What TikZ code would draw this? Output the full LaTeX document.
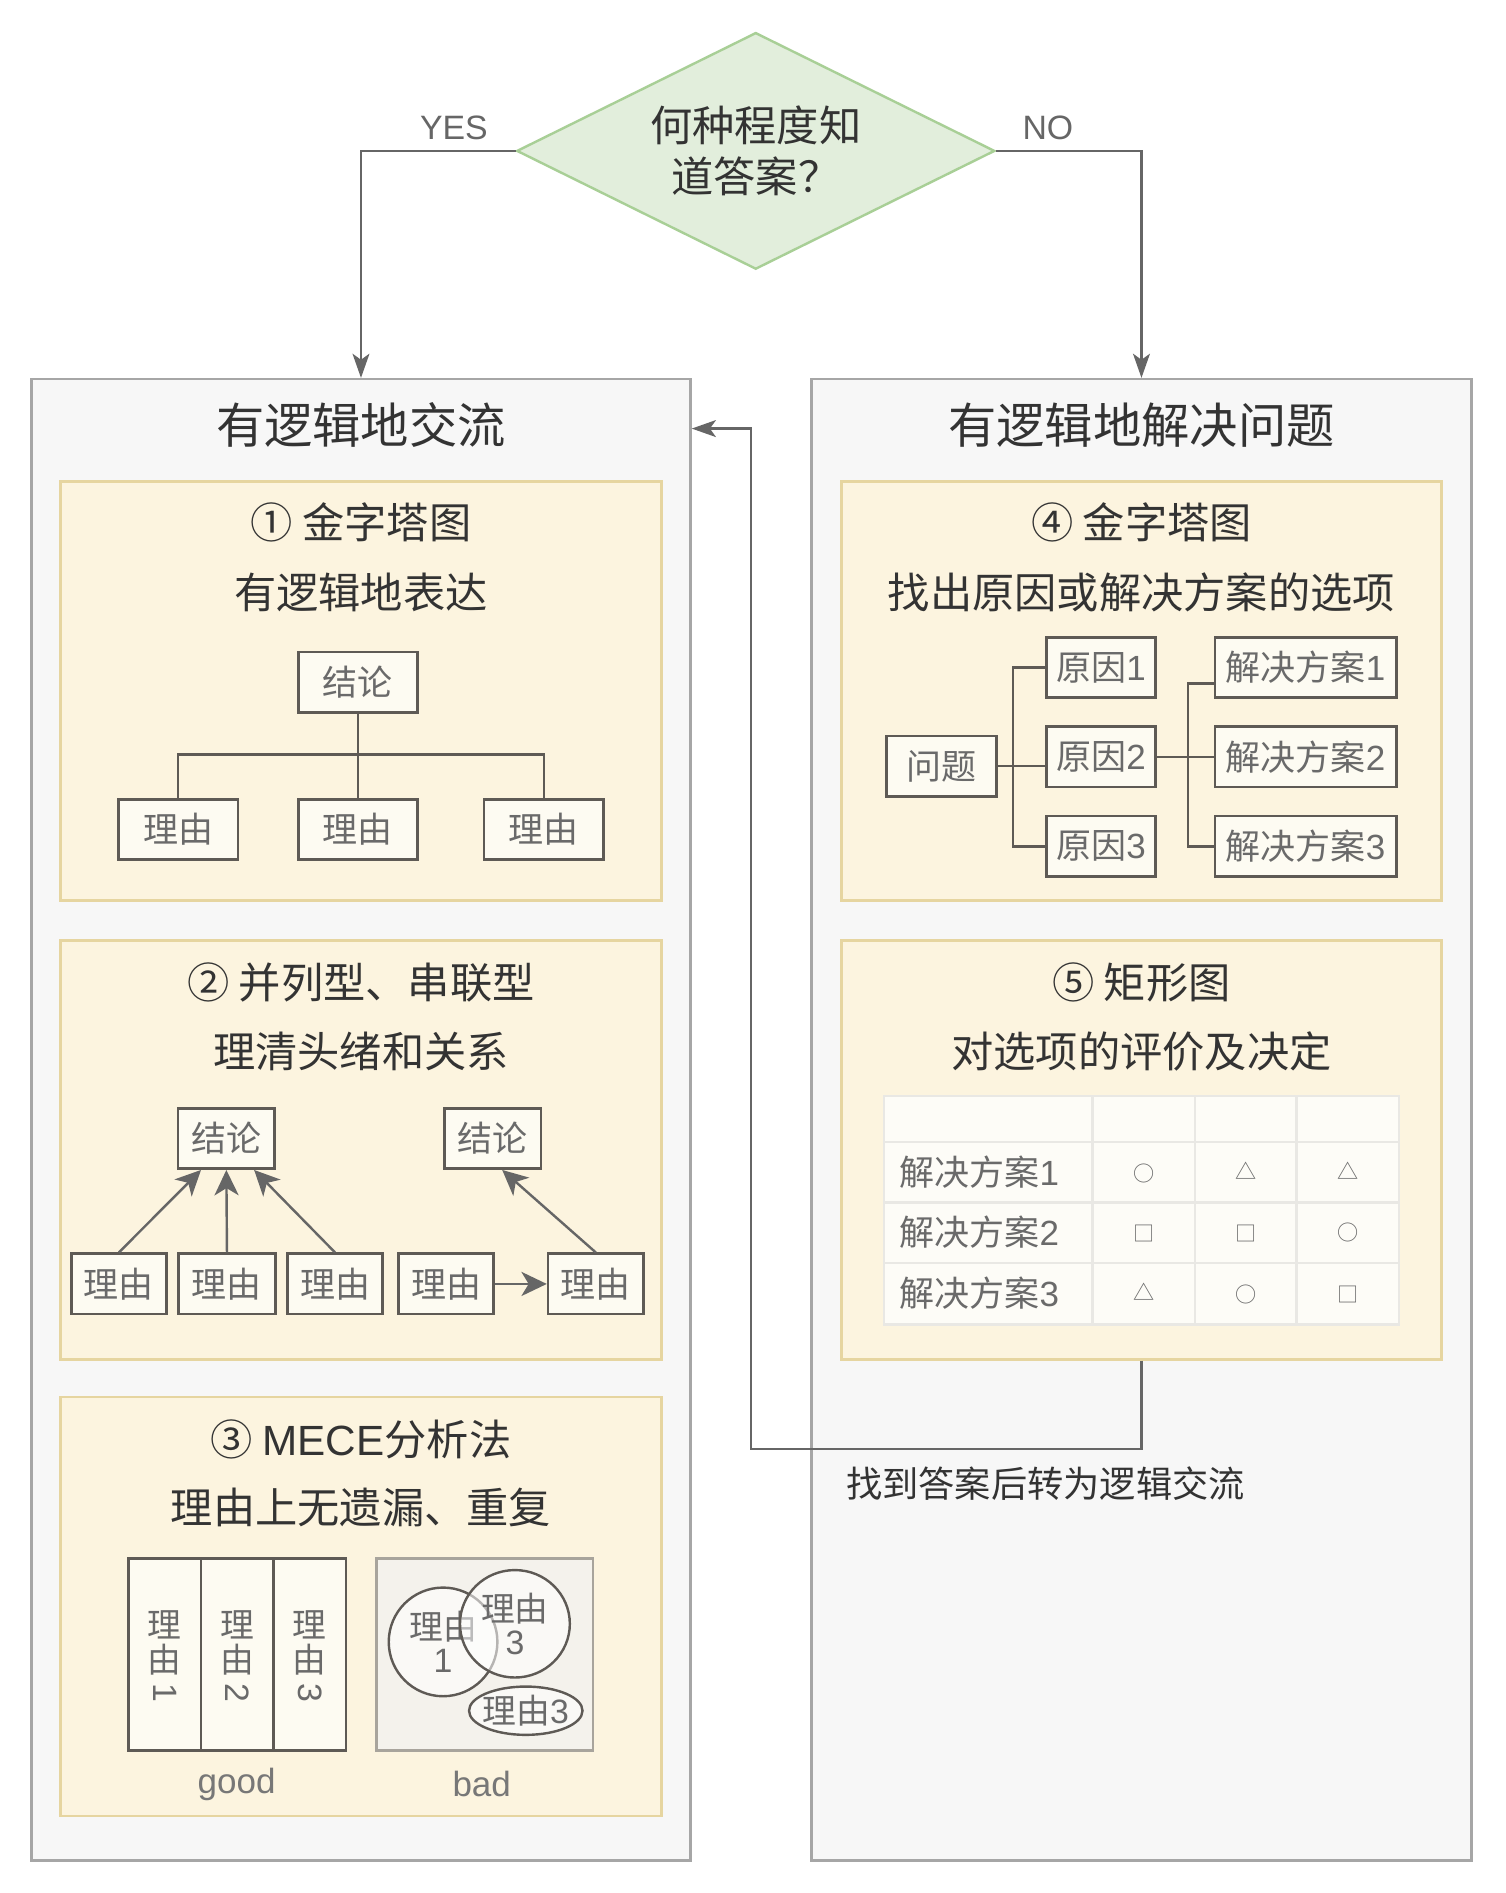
\documentclass[tikz,border=0pt]{standalone}
\usepackage{fontspec}
\usepackage{graphicx}
\setmainfont{Noto Sans CJK SC}
\newfontfamily\hvfont{Liberation Sans}
\newcommand\hvt[1]{{\hvfont #1}}
\usetikzlibrary{arrows.meta,shapes.geometric,calc}
\definecolor{panelfill}{HTML}{F7F7F7}
\definecolor{panelline}{HTML}{A6A6A6}
\definecolor{secfill}{HTML}{FCF4DF}
\definecolor{secline}{HTML}{E6D5A0}
\definecolor{boxfill}{HTML}{FDFBF2}
\definecolor{boxline}{HTML}{5E5A55}
\definecolor{boxtext}{HTML}{6A6A6A}
\definecolor{titletext}{HTML}{333333}
\definecolor{connline}{HTML}{666666}
\definecolor{dfill}{HTML}{E2EEDC}
\definecolor{dline}{HTML}{A8CF96}
\definecolor{gridline}{HTML}{E9E8E4}
\definecolor{cellfill}{HTML}{FDFCF7}
\definecolor{badfill}{HTML}{F4F2EC}
\definecolor{badline}{HTML}{A8A49C}
\definecolor{lbltext}{HTML}{777777}
\begin{document}
\begin{tikzpicture}[x=1pt,y=-1pt,
  ttl/.style={font=\fontsize{40}{48}\selectfont, text=titletext, inner sep=0},
  sub/.style={font=\fontsize{35}{42}\selectfont, text=titletext, inner sep=0},
  panel/.style={draw=panelline, fill=panelfill, line width=2pt, minimum width=546, minimum height=1227, inner sep=0},
  sect/.style={draw=secline, fill=secfill, line width=2pt, minimum width=498, minimum height=347, inner sep=0},
  rbox/.style={draw=boxline, fill=boxfill, line width=2.2pt, text=boxtext, font=\fontsize{29}{34}\selectfont, minimum height=50, inner sep=0},
  gbox/.style={draw=boxline, fill=boxfill, line width=2.2pt, minimum width=60, minimum height=159, inner sep=0},
  gtext/.style={text=boxtext, font=\fontsize{28}{29}\selectfont, inner sep=0, align=center},
  circ/.style={ellipse, draw=boxline, line width=2pt, fill=white, fill opacity=0.55, text opacity=1, text=boxtext, font=\fontsize{28}{27}\selectfont, align=center, inner sep=0},
  conn/.style={draw=connline, line width=1.8pt, -{Stealth[length=20pt,width=14pt,inset=5pt]}},
  tline/.style={draw=boxline, line width=2pt},
  barrow/.style={draw=connline, line width=2pt, -{Stealth[length=21pt,width=20pt,inset=6pt]}},
  yn/.style={font=\hvfont\fontsize{28}{32}\selectfont, text=connline, inner sep=0},
  lbl/.style={font=\hvfont\fontsize{29}{34}\selectfont, text=lbltext, inner sep=0},
  grid/.style={draw=gridline, line width=2pt},
  tlabel/.style={font=\fontsize{29}{34}\selectfont, text=boxtext, inner sep=0, anchor=west},
  sym/.style={font=\fontsize{17.5}{20}\selectfont, text=boxtext, inner sep=0}
]
\path[use as bounding box, fill=white] (0,0) rectangle (1247,1568);

% panels
\node[panel] (panelL) at (299,927.5) {};
\node[panel, minimum width=547] (panelR) at (945.5,927.5) {};
\node[ttl] (tL) at (299,352) {有逻辑地交流};
\node[ttl] (tR) at (945.5,352) {有逻辑地解决问题};

% decision
\node[diamond, draw=dline, fill=dfill, line width=2pt, aspect=2, minimum width=396, minimum height=196, inner sep=0, align=center, font=\fontsize{35}{42}\selectfont, text=titletext] (dia) at (626,125) {何种程度知\\道答案？};
\draw[conn] (dia.west) -| (panelL.north);
\draw[conn] (dia.east) -| (panelR.north);
\node[yn] (yes) at (376,106) {YES};
\node[yn] (no) at (868,106) {NO};

% section 1
\node[sect] (sec1) at (299,572.5) {};
\node[sub] (s1a) at (299,433) {① 金字塔图};
\node[sub] (s1b) at (299,491) {有逻辑地表达};
\node[rbox, minimum width=99] (c1) at (296.5,565) {结论};
\node[rbox, minimum width=99] (r11) at (147.5,687) {理由};
\node[rbox, minimum width=99] (r12) at (296.5,687) {理由};
\node[rbox, minimum width=99] (r13) at (450.5,687) {理由};
\coordinate (j1) at (296.5,625);
\draw[tline] (c1.south) -- (j1) -- (r12.north);
\draw[tline] (r11.north) |- (j1) -| (r13.north);

% section 2
\node[sect] (sec2) at (299,952.5) {};
\node[sub] (s2a) at (299,814) {② 并列型、串联型};
\node[sub] (s2b) at (299,871) {理清头绪和关系};
\node[rbox, minimum width=80] (c21) at (187.5,943) {结论};
\node[rbox, minimum width=80] (c22) at (408,943) {结论};
\node[rbox, minimum width=79] (r21) at (98.5,1063.5) {理由};
\node[rbox, minimum width=80] (r22) at (188,1063.5) {理由};
\node[rbox, minimum width=79] (r23) at (277.5,1063.5) {理由};
\node[rbox, minimum width=79] (r24) at (369.5,1063.5) {理由};
\node[rbox, minimum width=79] (r25) at (493.5,1063.5) {理由};
\draw[barrow] (r21.north) -- ($(c21.south)+(-21,0)$);
\draw[barrow] (r22.north) -- (c21.south);
\draw[barrow] (r23.north) -- ($(c21.south)+(23,0)$);
\draw[barrow] (r25.north) -- ($(c22.south)+(8,0)$);
\draw[barrow] (r24.east) -- (r25.west);

% section 3
\node[sect] (sec3) at (299,1330.5) {};
\node[sub] (s3a) at (299,1192) {③ \hvt{MECE}分析法};
\node[sub] (s3b) at (299,1249) {理由上无遗漏、重复};
\node[gbox] (g1) at (136.5,1370.5) {};
\node[gbox] (g2) at (196.5,1370.5) {};
\node[gbox] (g3) at (256.5,1370.5) {};
\node[gtext] (g1t) at (136.5,1373) {理\\由\\[-3pt]\rotatebox[origin=c]{-90}{\hvt{1}}};
\node[gtext] (g2t) at (196.5,1373) {理\\由\\[-3pt]\rotatebox[origin=c]{-90}{\hvt{2}}};
\node[gtext] (g3t) at (256.5,1373) {理\\由\\[-3pt]\rotatebox[origin=c]{-90}{\hvt{3}}};
\node[draw=badline, fill=badfill, line width=2pt, minimum width=179, minimum height=159, inner sep=0] (bad) at (401.5,1370.5) {};
\node[circ, minimum width=90, minimum height=90] (e1) at (367,1360) {理由\\\hvt{1}};
\node[circ, minimum width=91, minimum height=89] (e2) at (426.5,1345) {理由\\\hvt{3}};
\node[circ, minimum width=94, minimum height=40] (e3) at (435.5,1417) {};
\node[font=\fontsize{28}{27}\selectfont, text=boxtext, inner sep=0] (e3t) at (e3.center) {理由\hvt{3}};
\node[lbl] (lgood) at (196,1478) {good};
\node[lbl] (lbad) at (399,1478) {bad};

% section 4
\node[sect, minimum width=497] (sec4) at (945.5,572.5) {};
\node[sub] (s4a) at (945.5,433) {④ 金字塔图};
\node[sub] (s4b) at (945.5,491) {找出原因或解决方案的选项};
\node[rbox, minimum width=91] (q) at (780,634.5) {问题};
\node[rbox, minimum width=90] (y1) at (912,553) {原因\hvt{1}};
\node[rbox, minimum width=90] (y2) at (912,627) {原因\hvt{2}};
\node[rbox, minimum width=90] (y3) at (912,701) {原因\hvt{3}};
\node[rbox, minimum width=150] (sol1) at (1081.5,553) {解决方案\hvt{1}};
\node[rbox, minimum width=150] (sol2) at (1081.5,627) {解决方案\hvt{2}};
\node[rbox, minimum width=150] (sol3) at (1081.5,701) {解决方案\hvt{3}};
\coordinate (k1) at (839,634.5);
\coordinate (k2) at (984,627);
\draw[tline] (q.east) -- (y2.west |- q.east);
\draw[tline] (y1.west) -| (k1) |- (y3.west);
\draw[tline] (y2.east) -- (sol2.west);
\draw[tline] ($(sol1.west)+(0,13)$) -| (k2) |- (sol3.west);

% section 5
\node[sect, minimum width=497] (sec5) at (945.5,952.5) {};
\node[sub] (s5a) at (945.5,814) {⑤ 矩形图};
\node[sub] (s5b) at (945.5,871) {对选项的评价及决定};
\fill[cellfill] (732,908) rectangle (1159,1097);
\foreach \gx in {905,990,1074} \draw[grid] (\gx,908) -- (\gx,1097);
\foreach \gy in {946,996,1046} \draw[grid] (732,\gy) -- (1159,\gy);
\draw[grid] (732,908) rectangle (1159,1097);
\node[tlabel] (t1) at (745,971) {解决方案\hvt{1}};
\node[tlabel] (t2) at (745,1021) {解决方案\hvt{2}};
\node[tlabel] (t3) at (745,1071) {解决方案\hvt{3}};
\node[sym] (m11) at (947.5,972) {○};
\node[sym] (m12) at (1032,970) {△};
\node[sym] (m13) at (1116.5,970) {△};
\node[sym] (m21) at (947.5,1022) {□};
\node[sym] (m22) at (1032,1022) {□};
\node[sym] (m23) at (1116.5,1021) {○};
\node[sym] (m31) at (947.5,1070) {△};
\node[sym] (m32) at (1032,1072) {○};
\node[sym] (m33) at (1116.5,1072) {□};

% feedback
\coordinate (fbc) at (622,1200);
\coordinate (tgt) at ($(panelL.north east)+(0,42)$);
\draw[conn] (sec5.south) |- (fbc) |- (tgt);
\node[font=\fontsize{30}{36}\selectfont, text=titletext, inner sep=0] (fbl) at (866,1229) {找到答案后转为逻辑交流};
\end{tikzpicture}
\end{document}
